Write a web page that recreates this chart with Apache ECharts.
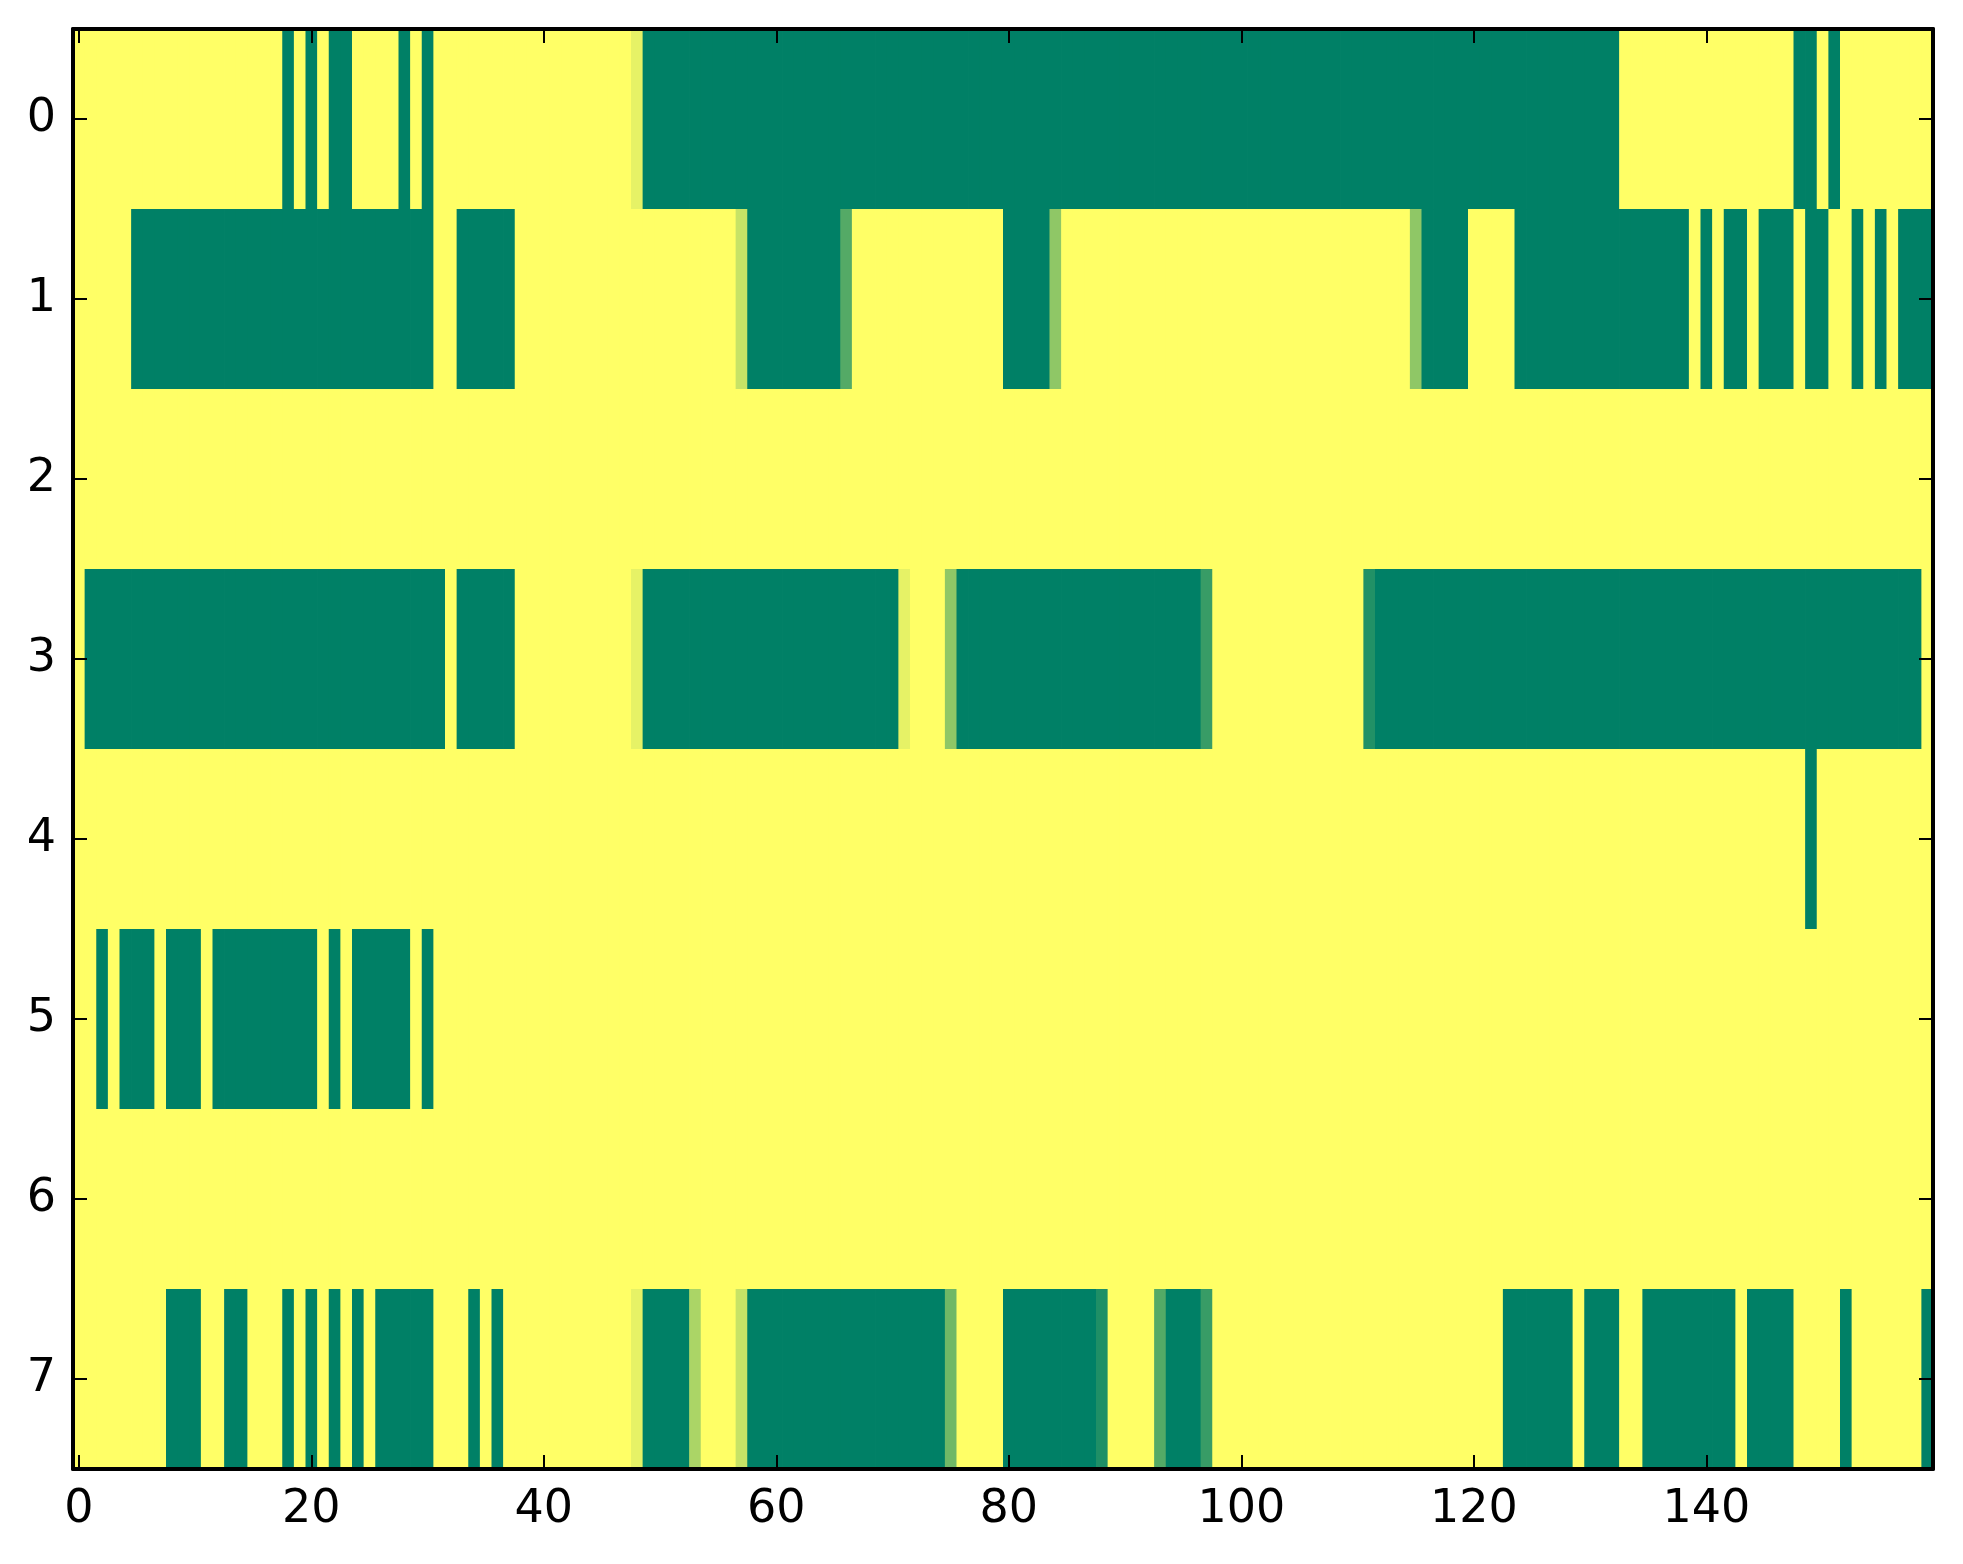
<!DOCTYPE html>
<html>
<head>
<meta charset="utf-8">
<script src="https://cdn.jsdelivr.net/npm/echarts@6/dist/echarts.min.js"></script>
<style>
html,body{margin:0;padding:0;background:#fff;}
#chart{width:1963px;height:1564px;}
</style>
</head>
<body>
<div id="chart"></div>
<script>
const yCategories = ['0','1','2','3','4','5','6','7'];
const xTickLabels = [0, 20, 40, 60, 80, 100, 120, 140];
const nCols = 160;

const row0 = [
1,1,1,1,1,1,1,1,1,1,
1,1,1,1,1,1,1,1,0,1,
0,1,0,0,1,1,1,1,0,1,
0,1,1,1,1,1,1,1,1,1,
1,1,1,1,1,1,1,1,0.9,0,
0,0,0,0,0,0,0,0,0,0,
0,0,0,0,0,0,0,0,0,0,
0,0,0,0,0,0,0,0,0,0,
0,0,0,0,0,0,0,0,0,0,
0,0,0,0,0,0,0,0,0,0,
0,0,0,0,0,0,0,0,0,0,
0,0,0,0,0,0,0,0,0,0,
0,0,0,0,0,0,0,0,0,0,
0,0,0,1,1,1,1,1,1,1,
1,1,1,1,1,1,1,1,0,0,
1,0,1,1,1,1,1,1,1,1];

const row1 = [
1,1,1,1,1,0,0,0,0,0,
0,0,0,0,0,0,0,0,0,0,
0,0,0,0,0,0,0,0,0,0,
0,1,1,0,0,0,0,0,1,1,
1,1,1,1,1,1,1,1,1,1,
1,1,1,1,1,1,1,0.78,0,0,
0,0,0,0,0,0,0.33,1,1,1,
1,1,1,1,1,1,1,1,1,1,
0,0,0,0,0.56,1,1,1,1,1,
1,1,1,1,1,1,1,1,1,1,
1,1,1,1,1,1,1,1,1,1,
1,1,1,1,1,0.56,0,0,0,0,
1,1,1,1,0,0,0,0,0,0,
0,0,0,0,0,0,0,0,0,1,
0,1,0,0,1,0,0,0,1,0,
0,1,1,0,1,0,1,0,0,0];

const row2 = [
1,1,1,1,1,1,1,1,1,1,
1,1,1,1,1,1,1,1,1,1,
1,1,1,1,1,1,1,1,1,1,
1,1,1,1,1,1,1,1,1,1,
1,1,1,1,1,1,1,1,1,1,
1,1,1,1,1,1,1,1,1,1,
1,1,1,1,1,1,1,1,1,1,
1,1,1,1,1,1,1,1,1,1,
1,1,1,1,1,1,1,1,1,1,
1,1,1,1,1,1,1,1,1,1,
1,1,1,1,1,1,1,1,1,1,
1,1,1,1,1,1,1,1,1,1,
1,1,1,1,1,1,1,1,1,1,
1,1,1,1,1,1,1,1,1,1,
1,1,1,1,1,1,1,1,1,1,
1,1,1,1,1,1,1,1,1,1];

const row3 = [
1,0,0,0,0,0,0,0,0,0,
0,0,0,0,0,0,0,0,0,0,
0,0,0,0,0,0,0,0,0,0,
0,0,1,0,0,0,0,0,1,1,
1,1,1,1,1,1,1,1,0.9,0,
0,0,0,0,0,0,0,0,0,0,
0,0,0,0,0,0,0,0,0,0,
0,0.9,1,1,1,0.56,0,0,0,0,
0,0,0,0,0,0,0,0,0,0,
0,0,0,0,0,0,0,0.22,1,1,
1,1,1,1,1,1,1,1,1,1,
1,0.13,0,0,0,0,0,0,0,0,
0,0,0,0,0,0,0,0,0,0,
0,0,0,0,0,0,0,0,0,0,
0,0,0,0,0,0,0,0,0,0,
0,0,0,0,0,0,0,0,0,1];

const row4 = [
1,1,1,1,1,1,1,1,1,1,
1,1,1,1,1,1,1,1,1,1,
1,1,1,1,1,1,1,1,1,1,
1,1,1,1,1,1,1,1,1,1,
1,1,1,1,1,1,1,1,1,1,
1,1,1,1,1,1,1,1,1,1,
1,1,1,1,1,1,1,1,1,1,
1,1,1,1,1,1,1,1,1,1,
1,1,1,1,1,1,1,1,1,1,
1,1,1,1,1,1,1,1,1,1,
1,1,1,1,1,1,1,1,1,1,
1,1,1,1,1,1,1,1,1,1,
1,1,1,1,1,1,1,1,1,1,
1,1,1,1,1,1,1,1,1,1,
1,1,1,1,1,1,1,1,1,0,
1,1,1,1,1,1,1,1,1,1];

const row5 = [
1,1,0,1,0,0,0,1,0,0,
0,1,0,0,0,0,0,0,0,0,
0,1,0,1,0,0,0,0,0,1,
0,1,1,1,1,1,1,1,1,1,
1,1,1,1,1,1,1,1,1,1,
1,1,1,1,1,1,1,1,1,1,
1,1,1,1,1,1,1,1,1,1,
1,1,1,1,1,1,1,1,1,1,
1,1,1,1,1,1,1,1,1,1,
1,1,1,1,1,1,1,1,1,1,
1,1,1,1,1,1,1,1,1,1,
1,1,1,1,1,1,1,1,1,1,
1,1,1,1,1,1,1,1,1,1,
1,1,1,1,1,1,1,1,1,1,
1,1,1,1,1,1,1,1,1,1,
1,1,1,1,1,1,1,1,1,1];

const row6 = [
1,1,1,1,1,1,1,1,1,1,
1,1,1,1,1,1,1,1,1,1,
1,1,1,1,1,1,1,1,1,1,
1,1,1,1,1,1,1,1,1,1,
1,1,1,1,1,1,1,1,1,1,
1,1,1,1,1,1,1,1,1,1,
1,1,1,1,1,1,1,1,1,1,
1,1,1,1,1,1,1,1,1,1,
1,1,1,1,1,1,1,1,1,1,
1,1,1,1,1,1,1,1,1,1,
1,1,1,1,1,1,1,1,1,1,
1,1,1,1,1,1,1,1,1,1,
1,1,1,1,1,1,1,1,1,1,
1,1,1,1,1,1,1,1,1,1,
1,1,1,1,1,1,1,1,1,1,
1,1,1,1,1,1,1,1,1,1];

const row7 = [
1,1,1,1,1,1,1,1,0,0,
0,1,1,0,0,1,1,1,0,1,
0,1,0,1,0,1,0,0,0,0,
0,1,1,1,0,1,0,1,1,1,
1,1,1,1,1,1,1,1,0.9,0,
0,0,0,0.67,1,1,1,0.78,0,0,
0,0,0,0,0,0,0,0,0,0,
0,0,0,0,0,0.44,1,1,1,1,
0,0,0,0,0,0,0,0,0.12,1,
1,1,1,0.33,0,0,0,0.22,1,1,
1,1,1,1,1,1,1,1,1,1,
1,1,1,1,1,1,1,1,1,1,
1,1,1,0,0,0,0,0,0,1,
0,0,0,1,1,0,0,0,0,0,
0,0,0,1,0,0,0,0,1,1,
1,1,0,1,1,1,1,1,1,0];

const rows = [row0, row1, row2, row3, row4, row5, row6, row7];

const xCategories = [];
for (let i = 0; i < nCols; i++) xCategories.push(String(i));

const heatData = [];
rows.forEach((r, y) => r.forEach((v, x) => heatData.push([x, y, v])));

const FONT = 'DejaVu Sans';
const isTick = (idx) => xTickLabels.indexOf(idx) >= 0;
const lineStyle = { color: '#000', width: 4 };
const tickStyle = { color: '#000', width: 2 };

function renderCell(params, api) {
  const p = api.coord([api.value(0), api.value(1)]);
  const s = api.size([1, 1]);
  return {
    type: 'rect',
    shape: { x: p[0] - s[0] / 2, y: p[1] - s[1] / 2, width: s[0] + 0.8, height: s[1] + 0.8 },
    style: { fill: api.visual('color') },
    silent: true
  };
}

const chart = echarts.init(document.getElementById('chart'), null, { renderer: 'canvas' });
chart.setOption({
  animation: false,
  backgroundColor: '#ffffff',
  grid: { left: 73, top: 29, width: 1860, height: 1440, containLabel: false },
  xAxis: [
    {
      type: 'category', data: xCategories, position: 'bottom', gridIndex: 0, z: 10,
      axisLine: { show: true, onZero: false, lineStyle: lineStyle },
      axisTick: { show: true, inside: true, length: 14, alignWithLabel: true,
                  interval: (idx) => isTick(idx), lineStyle: tickStyle },
      axisLabel: { show: true, interval: (idx) => isTick(idx), margin: 18,
                   fontFamily: FONT, fontSize: 46, color: '#000' },
      splitLine: { show: false }
    },
    {
      type: 'category', data: xCategories, position: 'top', gridIndex: 0, z: 10,
      axisLine: { show: true, onZero: false, lineStyle: lineStyle },
      axisTick: { show: true, inside: true, length: 14, alignWithLabel: true,
                  interval: (idx) => isTick(idx), lineStyle: tickStyle },
      axisLabel: { show: false },
      splitLine: { show: false }
    }
  ],
  yAxis: [
    {
      type: 'category', data: yCategories, inverse: true, position: 'left', gridIndex: 0, z: 10,
      axisLine: { show: true, onZero: false, lineStyle: lineStyle },
      axisTick: { show: true, inside: true, length: 14, alignWithLabel: true, lineStyle: tickStyle },
      axisLabel: { show: true, margin: 17, fontFamily: FONT, fontSize: 46, color: '#000' },
      splitLine: { show: false }
    },
    {
      type: 'category', data: yCategories, inverse: true, position: 'right', gridIndex: 0, z: 10,
      axisLine: { show: true, onZero: false, lineStyle: lineStyle },
      axisTick: { show: true, inside: true, length: 14, alignWithLabel: true, lineStyle: tickStyle },
      axisLabel: { show: false },
      splitLine: { show: false }
    }
  ],
  visualMap: {
    show: false, type: 'continuous', min: 0, max: 1, seriesIndex: 0, dimension: 2,
    inRange: { color: ['#008066', '#ffff66'] }
  },
  series: [{
    type: 'custom',
    xAxisIndex: 0, yAxisIndex: 0,
    data: heatData,
    encode: { x: 0, y: 1 },
    renderItem: renderCell,
    clip: true,
    z: 1
  }]
});
</script>
</body>
</html>
